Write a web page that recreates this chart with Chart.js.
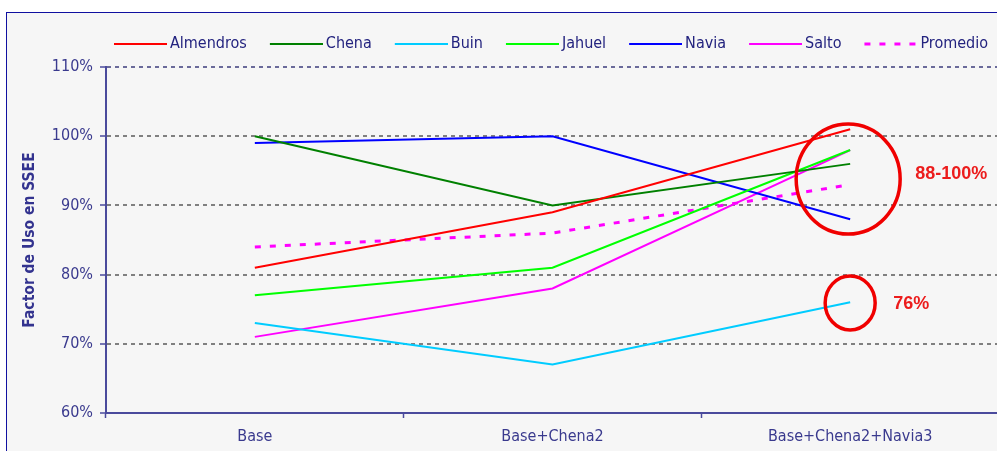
<!DOCTYPE html>
<html>
<head>
<meta charset="utf-8">
<script src="https://cdn.jsdelivr.net/npm/chart.js@4"></script>
<style>
  html, body { margin: 0; padding: 0; background: #ffffff; overflow: hidden; width: 997px; height: 451px; }
  #frame { position: absolute; left: 6px; top: 12px; width: 2000px; height: 1000px;
           border-left: 1px solid #1010a0; border-top: 1px solid #1010a0; background: #f6f6f6; }
  #wrap { position: absolute; left: 7px; top: 13px; width: 1088px; height: 460px; }
</style>
</head>
<body>
<div id="frame"></div>
<div id="wrap"><canvas id="c" width="1088" height="460"></canvas></div>
<script>
const categories = ['Base', 'Base+Chena2', 'Base+Chena2+Navia3'];
const almendros = [81, 89, 101];
const chena     = [100, 90, 96];
const buin      = [73, 67, 76];
const jahuel    = [77, 81, 98];
const navia     = [99, 100, 88];
const salto     = [71, 78, 98];
const promedio  = [84, 86, 93];
const yTicks    = [60, 70, 80, 90, 100, 110];
const axisTitle = 'Factor de Uso en SSEE';
const noteHigh  = '88-100%';
const noteLow   = '76%';

const FONT = "'DejaVu Sans Condensed', 'DejaVu Sans', sans-serif";
Chart.defaults.font.family = FONT;

const legendGap = {
  id: 'legendGap',
  beforeInit(chart) {
    const fit = chart.legend.fit;
    chart.legend.fit = function () { fit.call(this); this.height += 5; };
  }
};

const notes = {
  id: 'notes',
  afterDatasetsDraw(chart) {
    const ctx = chart.ctx, xs = chart.scales.x, ys = chart.scales.y;
    const cx = xs.getPixelForValue(2);
    ctx.save();
    ctx.strokeStyle = '#f00000';
    ctx.lineWidth = 3.5;
    ctx.beginPath();
    ctx.ellipse(cx - 2, ys.getPixelForValue(93.8), 52, 55, 0, 0, Math.PI * 2);
    ctx.stroke();
    ctx.beginPath();
    ctx.ellipse(cx, ys.getPixelForValue(75.9), 25, 27, 0, 0, Math.PI * 2);
    ctx.stroke();
    ctx.fillStyle = '#ec1c1c';
    ctx.font = "bold 18px 'Liberation Sans', Arial, sans-serif";
    ctx.textAlign = 'left';
    ctx.textBaseline = 'middle';
    ctx.fillText(noteHigh, cx + 65, ys.getPixelForValue(94.5));
    ctx.fillText(noteLow, cx + 43, ys.getPixelForValue(75.7));
    ctx.restore();
  }
};

// legend sample: 53px line, placed so that text follows 3px after it
function legendLine(color, width, dash) {
  const c = document.createElement('canvas');
  c.width = 58; c.height = 6;
  const g = c.getContext('2d');
  g.strokeStyle = color; g.lineWidth = width; g.setLineDash(dash);
  g.beginPath(); g.moveTo(5, 3); g.lineTo(58, 3); g.stroke();
  return c;
}

function ds(label, data, color, dashed) {
  const w = dashed ? 3 : 2, d = dashed ? [6, 9] : [];
  return {
    label, data, yAxisID: 'y',
    borderColor: color, backgroundColor: color,
    borderWidth: w, borderDash: d,
    pointRadius: 0, pointHoverRadius: 0,
    pointStyle: legendLine(color, w, d),
    tension: 0, fill: false
  };
}

new Chart(document.getElementById('c'), {
  type: 'line',
  data: {
    labels: categories,
    datasets: [
      ds('Almendros', almendros, '#ff0000'),
      ds('Chena', chena, '#008000'),
      ds('Buin', buin, '#00ccff'),
      ds('Jahuel', jahuel, '#00ff00'),
      ds('Navia', navia, '#0000ff'),
      ds('Salto', salto, '#ff00ff'),
      ds('Promedio', promedio, '#ff00ff', true)
    ]
  },
  options: {
    responsive: false,
    animation: false,
    devicePixelRatio: 1,
    layout: { padding: { top: 0, left: 0, right: 0, bottom: 20 } },
    plugins: {
      legend: {
        position: 'top',
        labels: {
          usePointStyle: true,
          pointStyleWidth: 48,
          padding: 23,
          color: '#23237f',
          font: { size: 16, family: FONT }
        }
      },
      tooltip: { enabled: false }
    },
    scales: {
      x: {
        offset: true,
        afterFit(s) { s.height = 40; },
        grid: { display: true, drawOnChartArea: false, drawTicks: true, tickLength: 5,
                offset: true, tickColor: '#4a4a9c', tickWidth: 1.5 },
        border: { display: true, color: '#4a4a9c', width: 2 },
        ticks: { color: '#3a3a8e', padding: 9, font: { size: 16 }, maxRotation: 0 }
      },
      y: {
        position: 'left',
        min: 60, max: 110,
        afterFit(s) { s.width = 99; },
        afterBuildTicks(s) { s.ticks = yTicks.map(v => ({ value: v })); },
        title: { display: true, text: axisTitle, color: '#33338f',
                 font: { size: 15.5, weight: 'bold' }, padding: { top: 14, bottom: 0 } },
        grid: {
          color: (c) => (c.tick && c.tick.value === 110) ? '#6a6a9a' : (c.tick && c.tick.value === 60 ? 'rgba(0,0,0,0)' : '#808080'),
          lineWidth: 2, tickLength: 6, tickColor: '#4a4a9c', tickWidth: 1.5, tickBorderDash: []
        },
        border: { display: true, color: '#4a4a9c', width: 2, dash: [4, 4] },
        ticks: { color: '#3a3a8e', padding: 7, font: { size: 16 },
                 callback: (v) => v + '%' }
      },
      y2: {
        position: 'right',
        display: true,
        afterFit(s) { s.width = 96; },
        grid: { display: false, drawTicks: false },
        border: { display: false },
        ticks: { display: false }
      }
    }
  },
  plugins: [legendGap, notes]
});
</script>
</body>
</html>
